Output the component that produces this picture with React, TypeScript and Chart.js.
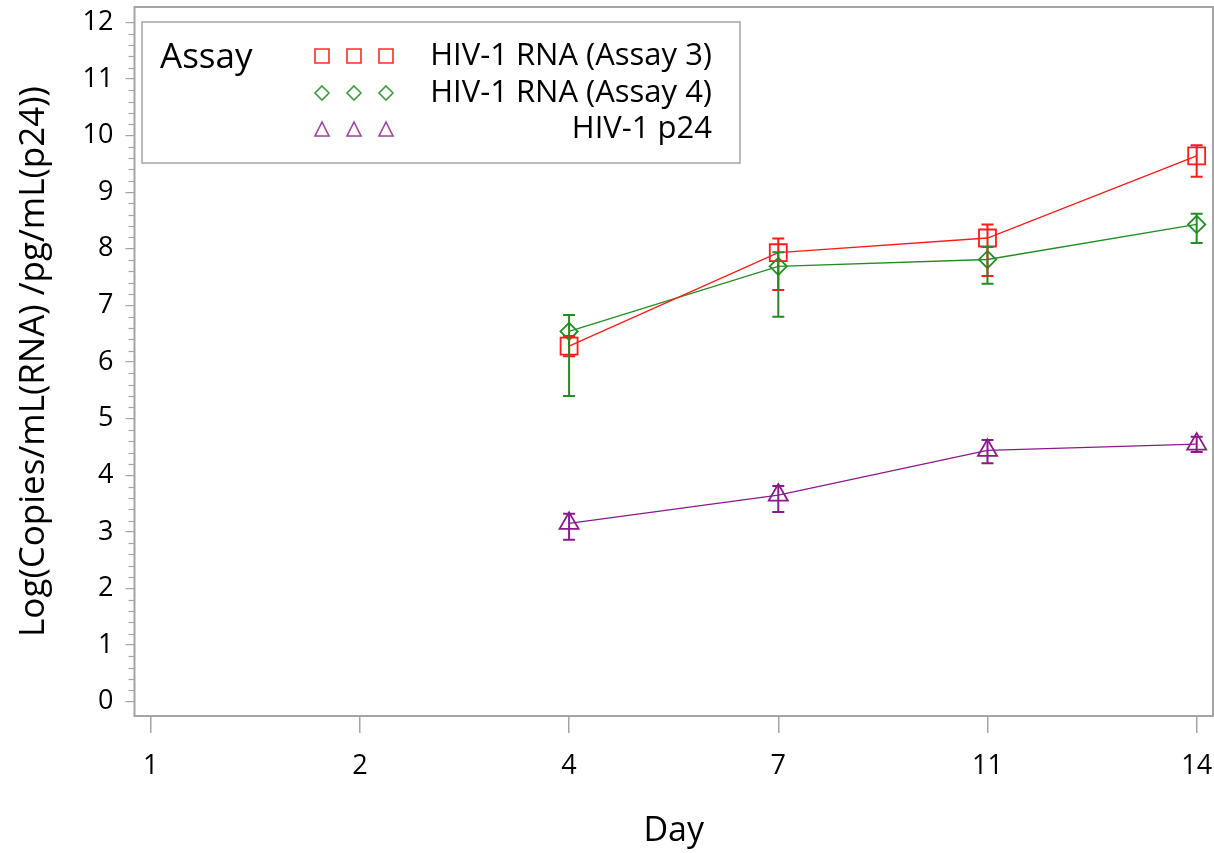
import React, { useEffect, useRef } from "react";
import { Chart, registerables } from "chart.js";

Chart.register(...registerables);

const categories = ["1", "2", "4", "7", "11", "14"];

const assay3Mean = [null, null, 6.28, 7.93, 8.19, 9.64];
const assay3Low = [null, null, 6.1, 7.27, 7.52, 9.27];
const assay3High = [null, null, 6.46, 8.18, 8.43, 9.83];

const assay4Mean = [null, null, 6.54, 7.69, 7.81, 8.43];
const assay4Low = [null, null, 5.4, 6.8, 7.38, 8.1];
const assay4High = [null, null, 6.83, 7.94, 8.03, 8.62];

const p24Mean = [null, null, 3.15, 3.65, 4.44, 4.55];
const p24Low = [null, null, 2.86, 3.35, 4.21, 4.41];
const p24High = [null, null, 3.32, 3.81, 4.62, 4.68];

const yTicks = [0, 1, 2, 3, 4, 5, 6, 7, 8, 9, 10, 11, 12];

const seriesNames = ["HIV-1 RNA (Assay 3)", "HIV-1 RNA (Assay 4)", "HIV-1 p24"];
const legendTitle = "Assay";
const xTitle = "Day";
const yTitle = "Log(Copies/mL(RNA) /pg/mL(p24))";

const RED = "#ff1a1a";
const GREEN = "#238c23";
const PURPLE = "#8a1a8a";
const FRAME = "#a4a4a4";
const FONT = "'Open Sans', 'Noto Sans', sans-serif";

function toPoints(means: (number | null)[]) {
  const pts: { x: number; y: number }[] = [];
  means.forEach((v, i) => {
    if (v !== null) pts.push({ x: i, y: v });
  });
  return pts;
}

function drawMarker(ctx: CanvasRenderingContext2D, kind: string, x: number, y: number, s: number) {
  ctx.beginPath();
  if (kind === "square") {
    ctx.rect(x - s / 2, y - s / 2, s, s);
  } else if (kind === "diamond") {
    ctx.moveTo(x, y - s / 2);
    ctx.lineTo(x + s / 2, y);
    ctx.lineTo(x, y + s / 2);
    ctx.lineTo(x - s / 2, y);
    ctx.closePath();
  } else {
    ctx.moveTo(x, y - s / 2);
    ctx.lineTo(x + s / 2, y + s / 2);
    ctx.lineTo(x - s / 2, y + s / 2);
    ctx.closePath();
  }
  ctx.stroke();
}

const errorSets = [
  { low: assay3Low, high: assay3High, color: RED },
  { low: assay4Low, high: assay4High, color: GREEN },
  { low: p24Low, high: p24High, color: PURPLE },
];

function zeroPad(s: any) {
  s.paddingTop = 0;
  s.paddingBottom = 0;
  s.paddingLeft = 0;
  s.paddingRight = 0;
}

const customPlugin = {
  id: "custom",
  beforeDatasetsDraw(chart: any) {
    const { ctx, chartArea, scales } = chart;
    const ys = scales.y;
    ctx.save();
    ctx.strokeStyle = FRAME;
    ctx.lineWidth = 2;
    ctx.strokeRect(chartArea.left, chartArea.top, chartArea.right - chartArea.left, chartArea.bottom - chartArea.top);
    ctx.lineWidth = 1.2;
    for (let i = 0; i <= 60; i++) {
      if (i % 5 === 0) continue;
      const v = i / 5;
      const py = Math.round(ys.getPixelForValue(v)) + 0.5;
      ctx.beginPath();
      ctx.moveTo(chartArea.left - 6, py);
      ctx.lineTo(chartArea.left, py);
      ctx.stroke();
    }
    ctx.restore();
  },
  afterDatasetsDraw(chart: any) {
    const { ctx, chartArea, scales } = chart;
    const xs = scales.x;
    const ys = scales.y;
    ctx.save();
    errorSets.forEach((set) => {
      ctx.strokeStyle = set.color;
      ctx.lineWidth = 2;
      set.low.forEach((lo, i) => {
        const hi = set.high[i];
        if (lo === null || hi === null) return;
        const px = xs.getPixelForValue(i);
        const pl = ys.getPixelForValue(lo);
        const ph = ys.getPixelForValue(hi);
        ctx.beginPath();
        ctx.moveTo(px, pl);
        ctx.lineTo(px, ph);
        ctx.moveTo(px - 6, pl);
        ctx.lineTo(px + 6, pl);
        ctx.moveTo(px - 6, ph);
        ctx.lineTo(px + 6, ph);
        ctx.stroke();
      });
    });
    // legend
    const lx = chartArea.left + 7.5;
    const ly = chartArea.top + 15;
    const lw = 598;
    const lh = 141;
    ctx.strokeStyle = FRAME;
    ctx.lineWidth = 1.5;
    ctx.strokeRect(lx, ly, lw, lh);
    ctx.fillStyle = "#000";
    ctx.font = `35px ${FONT}`;
    ctx.textBaseline = "middle";
    ctx.textAlign = "left";
    ctx.fillText(legendTitle, lx + 18, ly + 36);
    const kinds = ["square", "diamond", "triangle"];
    const colors = ["#ff2a2a", "#3f9a3f", "#99449a"];
    const rowY = [ly + 34, ly + 71, ly + 107];
    ctx.font = `31px ${FONT}`;
    ctx.textAlign = "right";
    seriesNames.forEach((name, r) => {
      ctx.strokeStyle = colors[r];
      ctx.lineWidth = 1.6;
      [180, 212, 244].forEach((dx) => drawMarker(ctx, kinds[r], lx + dx, rowY[r], 14));
      ctx.fillStyle = "#000";
      ctx.fillText(name, lx + 570, rowY[r]);
    });
    ctx.restore();
  },
};

export default function App() {
  const ref = useRef<HTMLCanvasElement | null>(null);
  useEffect(() => {
    if (!ref.current) return;
    const chart = new Chart(ref.current, {
      type: "line",
      data: {
        datasets: [
          {
            label: seriesNames[0],
            data: toPoints(assay3Mean),
            borderColor: RED,
            borderWidth: 1.3,
            pointStyle: "rect",
            pointRadius: 12,
            pointBorderWidth: 1.8,
            pointBorderColor: RED,
            pointBackgroundColor: "rgba(0,0,0,0)",
          },
          {
            label: seriesNames[1],
            data: toPoints(assay4Mean),
            borderColor: GREEN,
            borderWidth: 1.3,
            pointStyle: "rectRot",
            pointRadius: 8.6,
            pointBorderWidth: 1.8,
            pointBorderColor: GREEN,
            pointBackgroundColor: "rgba(0,0,0,0)",
          },
          {
            label: seriesNames[2],
            data: toPoints(p24Mean),
            borderColor: PURPLE,
            borderWidth: 1.3,
            pointStyle: "triangle",
            pointRadius: 11,
            pointBorderWidth: 1.8,
            pointBorderColor: PURPLE,
            pointBackgroundColor: "rgba(0,0,0,0)",
          },
        ],
      },
      options: {
        animation: false,
        responsive: false,
        maintainAspectRatio: false,
        layout: { autoPadding: false, padding: { top: 7, right: 1, left: 0, bottom: 0 } },
        plugins: { legend: { display: false }, tooltip: { enabled: false } },
        scales: {
          x: {
            type: "linear",
            min: -0.0774,
            max: 5.078,
            afterBuildTicks: (s: any) => {
              s.ticks = categories.map((_, i) => ({ value: i }));
            },
            afterFit: (s: any) => {
              s.height = 137;
              zeroPad(s);
            },
            grid: { drawOnChartArea: false, drawTicks: true, tickLength: 17, color: FRAME, lineWidth: 1.5 },
            border: { display: false },
            ticks: {
              autoSkip: false,
              maxRotation: 0,
              padding: 17,
              color: "#000",
              font: { family: FONT, size: 27 },
              callback: (v: any) => categories[Math.round(Number(v))] ?? "",
            },
            title: {
              display: true,
              text: xTitle,
              color: "#000",
              font: { family: FONT, size: 34 },
              padding: { top: 0, bottom: 1 },
            },
          },
          y: {
            type: "linear",
            min: -0.2526,
            max: 12.27,
            afterBuildTicks: (s: any) => {
              s.ticks = yTicks.map((v) => ({ value: v }));
            },
            afterFit: (s: any) => {
              s.width = 134.5;
              zeroPad(s);
            },
            grid: { drawOnChartArea: false, drawTicks: true, tickLength: 9, color: FRAME, lineWidth: 1.2 },
            border: { display: false },
            ticks: {
              padding: 12,
              color: "#000",
              font: { family: FONT, size: 27 },
              callback: (v: any) => String(v),
            },
            title: {
              display: true,
              text: yTitle,
              color: "#000",
              font: { family: FONT, size: 35 },
              padding: { top: 13.5, bottom: 0 },
            },
          },
        },
      },
      plugins: [customPlugin],
    } as any);
    return () => chart.destroy();
  }, []);
  return (
    <div style={{ position: "fixed", left: 0, top: 0, width: 1214, height: 853, background: "#fff" }}>
      <canvas ref={ref} width={1214} height={853} style={{ width: 1214, height: 853 }} />
    </div>
  );
}
